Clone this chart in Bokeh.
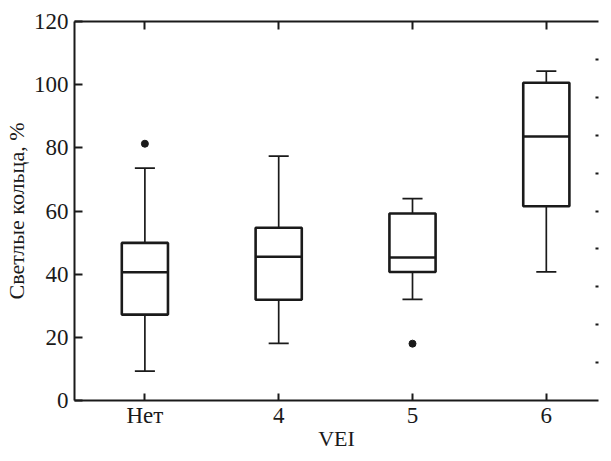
from bokeh.plotting import figure
from bokeh.models import Range1d, FixedTicker, LinearAxis, ColumnDataSource, CustomLabelingPolicy
from bokeh.embed import file_html
from bokeh.resources import INLINE

categories = ["Нет", "4", "5", "6"]
lower = [9.3, 18.1, 32.0, 40.7]
q1 = [27.2, 31.9, 40.7, 61.5]
median = [40.6, 45.5, 45.3, 83.6]
q3 = [49.9, 54.7, 59.2, 100.6]
upper = [73.6, 77.4, 63.9, 104.3]
outlier_cat = ["Нет", "5"]
outlier_val = [81.3, 18.0]
y_ticks = [0, 20, 40, 60, 80, 100, 120]
right_ticks = [12, 24, 36, 48, 60, 72, 84, 96, 108]

xs = list(range(len(categories)))
box_w = 0.345
cap_w = 0.15
ink = "#1a1a1a"
font = "Liberation Serif"

src = ColumnDataSource(dict(
    x=xs, lower=lower, q1=q1, med=median, q3=q3, upper=upper,
    bl=[x - box_w / 2 for x in xs], br=[x + box_w / 2 for x in xs],
    cl=[x - cap_w / 2 for x in xs], cr=[x + cap_w / 2 for x in xs],
))

p = figure(width=603, height=453, output_backend="svg", toolbar_location=None,
           x_range=Range1d(-0.526, 3.39), y_range=Range1d(0, 120),
           x_axis_location=None, y_axis_location=None,
           min_border_left=74, min_border_top=21, min_border_bottom=52, min_border_right=0)
p.outline_line_color = None
p.grid.visible = False
p.background_fill_color = "white"
p.border_fill_color = "white"

hide = CustomLabelingPolicy(code="""
const all = [...indices]
for (const i of all) { indices.unset(i) }
return indices
""")

def style(ax, ticks, labels=True, tick_in=8):
    ax.ticker = FixedTicker(ticks=ticks)
    ax.major_tick_in = tick_in
    ax.major_tick_out = 0
    ax.minor_tick_line_color = None
    ax.major_tick_line_width = 2
    ax.major_tick_line_color = ink
    ax.axis_line_width = 2
    ax.axis_line_color = ink
    if labels:
        ax.major_label_text_font = font
        ax.major_label_text_font_size = "23px"
        ax.major_label_text_color = ink
        ax.axis_label_text_font = font
        ax.axis_label_text_font_size = "22px"
        ax.axis_label_text_font_style = "normal"
        ax.axis_label_text_color = ink
    else:
        ax.major_label_policy = hide
        ax.major_label_text_font_size = "1px"
        ax.major_label_standoff = 0

left = LinearAxis(axis_label="Светлые кольца, %")
style(left, y_ticks)
left.major_label_standoff = 6
left.axis_label_standoff = 2
p.add_layout(left, "left")

bottom = LinearAxis(axis_label="VEI")
style(bottom, xs)
bottom.major_tick_in = 7
bottom.major_label_overrides = {i: c for i, c in enumerate(categories)}
bottom.major_label_standoff = 2
bottom.axis_label_standoff = -5
p.add_layout(bottom, "below")

top = LinearAxis()
style(top, xs, labels=False)
p.add_layout(top, "above")

right = LinearAxis()
style(right, right_ticks, labels=False, tick_in=3)
right.axis_line_color = None
p.add_layout(right, "right")

# whiskers
p.segment(x0="x", y0="q3", x1="x", y1="upper", source=src, line_color=ink, line_width=1.7)
p.segment(x0="x", y0="lower", x1="x", y1="q1", source=src, line_color=ink, line_width=1.7)
p.segment(x0="cl", y0="upper", x1="cr", y1="upper", source=src, line_color=ink, line_width=1.7)
p.segment(x0="cl", y0="lower", x1="cr", y1="lower", source=src, line_color=ink, line_width=1.7)
# boxes
p.quad(left="bl", right="br", bottom="q1", top="q3", source=src,
       fill_color="white", line_color=ink, line_width=2.6)
p.segment(x0="bl", y0="med", x1="br", y1="med", source=src, line_color=ink, line_width=2.6)
# outliers
p.scatter(x=[categories.index(c) for c in outlier_cat], y=outlier_val,
          size=7, fill_color=ink, line_color=ink)

open("out.html", "w").write(file_html(p, INLINE))
